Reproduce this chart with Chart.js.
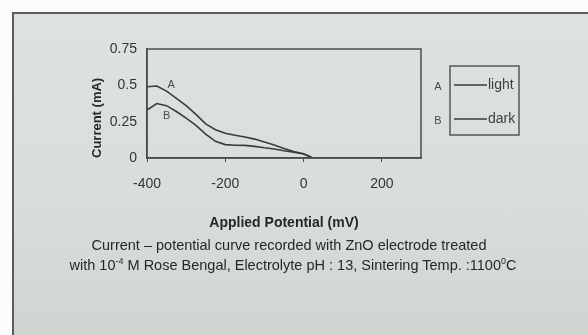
<!DOCTYPE html>
<html>
<head>
<meta charset="utf-8">
<script src="https://cdn.jsdelivr.net/npm/chart.js@4/dist/chart.umd.min.js"></script>
<style>
  html, body { margin: 0; padding: 0; background: #fbfcfb; }
  #page { position: relative; width: 588px; height: 335px; overflow: hidden; }
  #card {
    position: absolute; left: 12px; top: 12px; width: 580px; height: 330px;
    border-left: 2px solid #5a5d5b; border-top: 2px solid #5a5d5b;
    background: linear-gradient(180deg, #dde2df 0%, #d9dedb 55%, #cfd4d1 100%);
  }
  #chart { position: absolute; left: 0; top: 0; }
  .caption {
    position: absolute; left: 0; width: 578px; text-align: center;
    font-family: "Liberation Sans", Arial, sans-serif; font-size: 14.5px; color: #262827;
  }
  .caption sup { font-size: 9px; }
</style>
</head>
<body>
<div id="page">
  <div id="card"></div>
  <canvas id="chart" width="588" height="335"></canvas>
  <div class="caption" style="top:237px">Current – potential curve recorded with ZnO electrode treated</div>
  <div class="caption" style="top:256px;left:4px">with 10<sup>-4</sup> M Rose Bengal, Electrolyte pH : 13, Sintering Temp. :1100<sup>0</sup>C</div>
</div>
<script>
// applied potential (mV)
const potential = [-400, -375, -350, -325, -300, -275, -250, -225, -200, -175, -150, -125, -100, -75, -50, -25, 0, 20];
// current (mA)
const lightCurrent = [0.49, 0.495, 0.46, 0.41, 0.36, 0.30, 0.235, 0.195, 0.17, 0.157, 0.145, 0.13, 0.11, 0.09, 0.065, 0.045, 0.03, 0.005];
const darkCurrent = [0.33, 0.375, 0.36, 0.32, 0.275, 0.225, 0.165, 0.115, 0.092, 0.088, 0.087, 0.08, 0.07, 0.062, 0.05, 0.04, 0.028, 0.005];

const seriesNames = ["light", "dark"];
const curveTags = ["A", "B"];
// where the A / B tags sit next to the curves (data units)
const tagPotential = [-338, -350];
const tagCurrent = [0.50, 0.29];

const xTicks = [-400, -200, 0, 200];
const yTicks = [0, 0.25, 0.5, 0.75];

const ink = "#3a3c3b";
const sans = "'Liberation Sans', Arial, sans-serif";

const toPoints = (ys) => potential.map((x, i) => ({ x: x, y: ys[i] }));

// box round the plot, A/B tags, legend box on the right
const paperPlugin = {
    id: "paper",
    afterDraw(chart) {
        const ctx = chart.ctx;
        const a = chart.chartArea;
        const xs = chart.scales.x, ys = chart.scales.y;
        ctx.save();
        ctx.strokeStyle = "#4a4c4b";
        ctx.lineWidth = 1.5;
        ctx.strokeRect(a.left, a.top, a.right - a.left, a.bottom - a.top);

        ctx.fillStyle = "#4a4c4b";
        ctx.font = "11px " + sans;
        ctx.textAlign = "center";
        ctx.textBaseline = "middle";
        curveTags.forEach((t, i) => {
            ctx.fillText(t, xs.getPixelForValue(tagPotential[i]), ys.getPixelForValue(tagCurrent[i]));
        });

        // legend
        const lx = 450, ly = 66, lw = 69, lh = 69;
        ctx.strokeStyle = "#555857";
        ctx.lineWidth = 1.5;
        ctx.strokeRect(lx, ly, lw, lh);
        chart.data.datasets.forEach((ds, i) => {
            const cy = ly + 19 + i * 34;
            ctx.fillStyle = "#4a4c4b";
            ctx.font = "11px " + sans;
            ctx.textAlign = "center";
            ctx.fillText(curveTags[i], 438, cy + 2);
            ctx.strokeStyle = ds.borderColor;
            ctx.lineWidth = 1.3;
            ctx.beginPath();
            ctx.moveTo(lx + 4, cy);
            ctx.lineTo(lx + 37, cy);
            ctx.stroke();
            ctx.fillStyle = "#3f4140";
            ctx.font = "14px " + sans;
            ctx.textAlign = "left";
            ctx.fillText(ds.label, lx + 38, cy);
        });
        ctx.restore();
    },
};

new Chart(document.getElementById("chart"), {
    type: "line",
    data: {
        datasets: [
            { label: seriesNames[0], data: toPoints(lightCurrent), borderColor: ink, borderWidth: 1.6, pointRadius: 0, tension: 0 },
            { label: seriesNames[1], data: toPoints(darkCurrent), borderColor: ink, borderWidth: 1.6, pointRadius: 0, tension: 0 },
        ],
    },
    options: {
        responsive: false,
        animation: false,
        layout: { padding: { left: 80, right: 167, top: 49, bottom: 103 } },
        plugins: { legend: { display: false }, tooltip: { enabled: false } },
        scales: {
            x: {
                type: "linear",
                min: -400,
                max: 300,
                afterBuildTicks: (s) => { s.ticks = xTicks.map((v) => ({ value: v })); },
                afterFit: (s) => { s.height = 74; },
                grid: { drawOnChartArea: false, tickLength: 4, color: "#4a4c4b" },
                border: { color: "#4a4c4b", width: 1.5 },
                ticks: { color: "#333534", padding: 14, maxRotation: 0, font: { family: sans, size: 14 }, callback: (v) => String(v) },
                title: { display: true, text: "Applied Potential (mV)", color: "#262827", padding: { top: 0, bottom: 0 }, font: { family: sans, size: 14, weight: "bold" } },
            },
            y: {
                min: 0,
                max: 0.75,
                afterBuildTicks: (s) => { s.ticks = yTicks.map((v) => ({ value: v })); },
                afterFit: (s) => { s.width = 67; },
                grid: { display: false, drawTicks: false },
                border: { color: "#4a4c4b", width: 1.5 },
                ticks: { color: "#333534", padding: 10, font: { family: sans, size: 14 }, callback: (v) => String(v) },
                title: { display: true, text: "Current (mA)", color: "#262827", align: "start", padding: { top: 10, bottom: 0 }, font: { family: sans, size: 13, weight: "bold" } },
            },
        },
    },
    plugins: [paperPlugin],
});
</script>
</body>
</html>
